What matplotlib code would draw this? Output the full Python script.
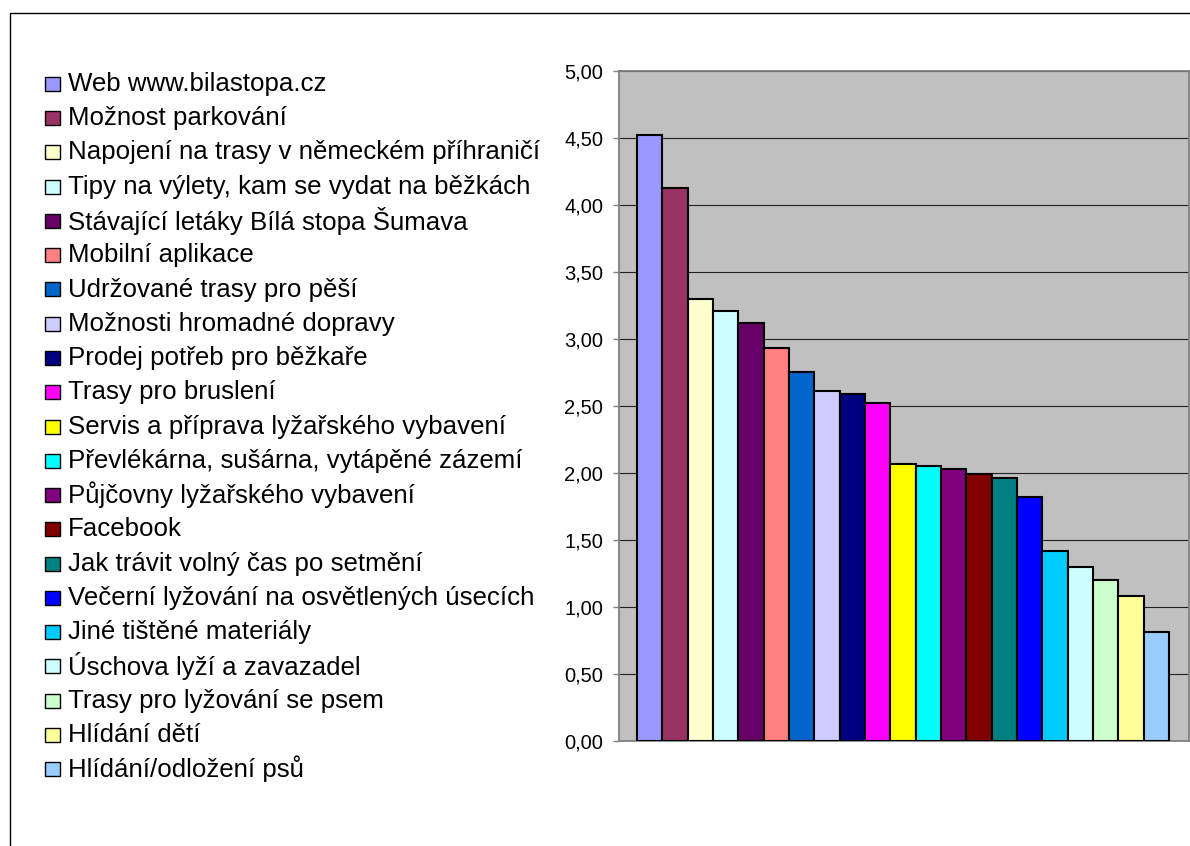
import matplotlib
matplotlib.use("Agg")
import matplotlib.pyplot as plt
from matplotlib.patches import Rectangle

plt.rcParams['font.family'] = ['Liberation Sans', 'DejaVu Sans']

labels = [
    "Web www.bilastopa.cz",
    "Možnost parkování",
    "Napojení na trasy v německém příhraničí",
    "Tipy na výlety, kam se vydat na běžkách",
    "Stávající letáky Bílá stopa Šumava",
    "Mobilní aplikace",
    "Udržované trasy pro pěší",
    "Možnosti hromadné dopravy",
    "Prodej potřeb pro běžkaře",
    "Trasy pro bruslení",
    "Servis a příprava lyžařského vybavení",
    "Převlékárna, sušárna, vytápěné zázemí",
    "Půjčovny lyžařského vybavení",
    "Facebook",
    "Jak trávit volný čas po setmění",
    "Večerní lyžování na osvětlených úsecích",
    "Jiné tištěné materiály",
    "Úschova lyží a zavazadel",
    "Trasy pro lyžování se psem",
    "Hlídání dětí",
    "Hlídání/odložení psů",
]
values = [4.52, 4.13, 3.30, 3.21, 3.12, 2.93, 2.75, 2.61, 2.59, 2.52,
          2.07, 2.05, 2.03, 1.99, 1.96, 1.82, 1.42, 1.30, 1.20, 1.08, 0.81]
colors = ["#9999FF", "#993366", "#FFFFCC", "#CCFFFF", "#660066", "#FF8080",
          "#0066CC", "#CCCCFF", "#000080", "#FF00FF", "#FFFF00", "#00FFFF",
          "#800080", "#800000", "#008080", "#0000FF", "#00CCFF", "#CCFFFF",
          "#CCFFCC", "#FFFF99", "#99CCFF"]
yticks = [0, 0.5, 1, 1.5, 2, 2.5, 3, 3.5, 4, 4.5, 5]
ytick_labels = ["0,00", "0,50", "1,00", "1,50", "2,00", "2,50", "3,00",
                "3,50", "4,00", "4,50", "5,00"]

W, H = 1190, 846
fig = plt.figure(figsize=(W / 100, H / 100), dpi=100)

def fx(px):
    return px / W

def fy(py):
    return 1 - py / H

# outer chart frame (runs off the right and bottom edges)
fig.add_artist(Rectangle((fx(9.5), -0.1), 1.2, fy(12.7) + 0.1, transform=fig.transFigure,
                         fill=False, edgecolor="black", linewidth=1.0))

ax = fig.add_axes([fx(619), fy(741), fx(1189) - fx(619), fy(71) - fy(741)])
ax.set_facecolor("#C0C0C0")

x = list(range(len(values)))
ax.bar(x, values, width=1.0, color=colors, edgecolor="black", linewidth=1.5, zorder=3)

ax.set_xlim(-1.21, 21.29)
ax.set_ylim(0, 5)
ax.set_yticks(yticks)
ax.set_yticklabels(ytick_labels, fontsize=14.5)
ax.set_xticks([])
ax.grid(axis="y", color="#202020", linewidth=0.8, zorder=1)
ax.tick_params(axis="y", direction="out", length=4.5, width=1, color="#808080", pad=7)
for side in ["left", "right", "top", "bottom"]:
    ax.spines[side].set_color("#808080")
    ax.spines[side].set_linewidth(1.3)

# legend on the left
row0, step = 84, 34.25
for i, (lab, col) in enumerate(zip(labels, colors)):
    cy = row0 + i * step
    fig.add_artist(Rectangle((fx(45), fy(cy + 7)), fx(60) - fx(45), fy(cy - 7) - fy(cy + 7),
                             transform=fig.transFigure, facecolor=col,
                             edgecolor="black", linewidth=1.0))
    fig.text(fx(68), fy(cy), lab, fontsize=18.6, va="center", ha="left")

fig.savefig("out.png", dpi=100)
